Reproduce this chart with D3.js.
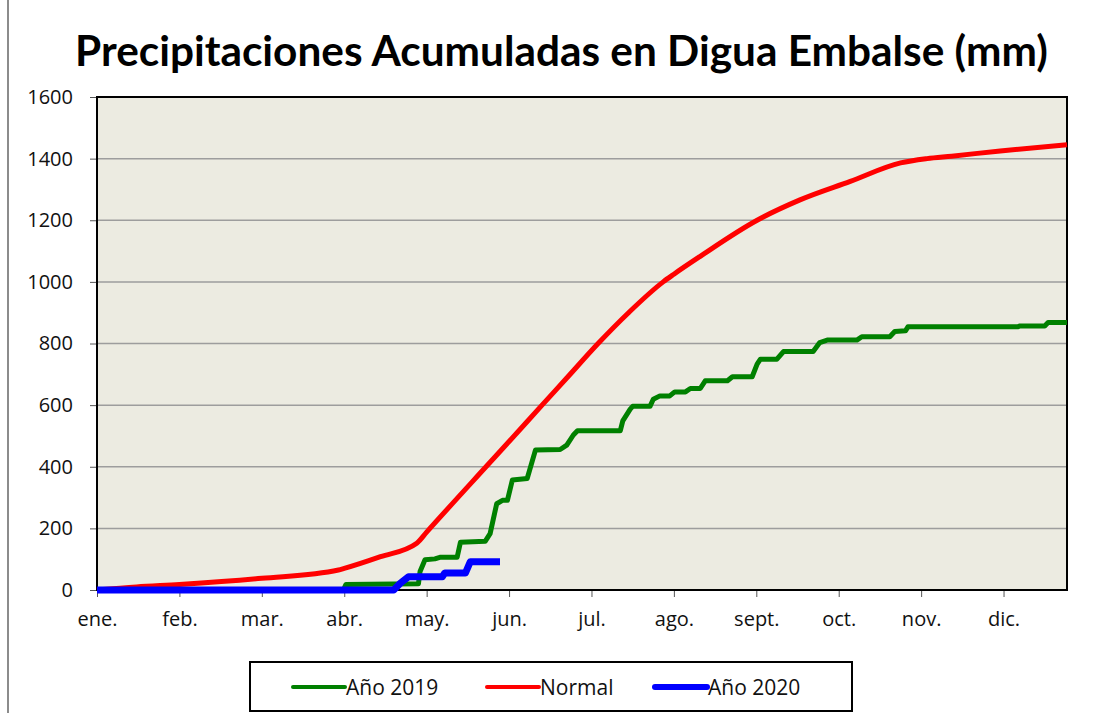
<!DOCTYPE html>
<html>
<head>
<meta charset="utf-8">
<script src="https://cdn.jsdelivr.net/npm/d3@7"></script>
<style>
  body { margin: 0; background: #fff; }
  text { font-family: "Open Sans", sans-serif; fill: #111; }
</style>
</head>
<body>
<svg id="chart"></svg>
<script>
// month positions (0 = 1 ene.) and accumulated mm
const monthLabels = ["ene.", "feb.", "mar.", "abr.", "may.", "jun.", "jul.", "ago.", "sept.", "oct.", "nov.", "dic."];
const yTicks = [0, 200, 400, 600, 800, 1000, 1200, 1400, 1600];

const normalMonth = [0, 0.48, 1.0, 2.0, 2.93, 3.0, 3.44, 3.88, 4.0, 4.72, 5.0, 5.4, 5.7, 6.08, 6.45, 6.87, 7.0, 7.32, 8.01, 8.53, 9.14, 9.75, 10.07, 10.37, 10.96, 11.77];
const normalValue = [0, 10, 18, 38, 65, 70, 108, 152, 188, 400, 482, 600, 688, 800, 900, 1000, 1025, 1083, 1200, 1266, 1326, 1386, 1400, 1408, 1425, 1445];

const y2019Month = [0, 2.99, 3.02, 3.9, 3.92, 3.98, 4.1, 4.16, 4.37, 4.41, 4.71, 4.77, 4.85, 4.92, 4.98, 5.04, 5.22, 5.32, 5.62, 5.7, 5.78, 5.83, 6.35, 6.38, 6.47, 6.5, 6.71, 6.75, 6.83, 6.95, 7.01, 7.14, 7.2, 7.32, 7.38, 7.65, 7.71, 7.95, 8.01, 8.05, 8.25, 8.33, 8.69, 8.77, 8.86, 9.22, 9.28, 9.62, 9.68, 9.81, 9.84, 11.17, 11.2, 11.5, 11.54, 11.77];
const y2019Value = [0, 0, 18, 20, 60, 98, 101, 106, 106, 155, 158, 183, 280, 291, 291, 357, 362, 454, 456, 470, 503, 517, 517, 549, 587, 596, 596, 619, 630, 630, 643, 643, 654, 654, 679, 679, 692, 692, 733, 749, 749, 774, 774, 803, 811, 811, 822, 822, 839, 841, 854, 854, 857, 857, 868, 868];

const y2020Month = [0, 3.6, 3.68, 3.78, 4.19, 4.22, 4.47, 4.53, 4.89];
const y2020Value = [0, 0, 22, 43, 43, 55, 55, 92, 92];

const chart = () => {
  const w = 1107;
  const h = 713;
  const left = 97;
  const right = 1067;
  const top = 97;
  const bottom = 590;
  const greenColor = "#008000";
  const redColor = "#ff0000";
  const blueColor = "#0000ff";

  const svg = d3.select("#chart").attr("width", w).attr("height", h);

  // outer chart edge on the left
  svg.append("line")
    .attr("x1", 8).attr("x2", 8)
    .attr("y1", 0).attr("y2", h)
    .style("stroke", "#8c8c8c")
    .style("stroke-width", 2);

  const title = svg.append("text")
    .attr("x", (75 + 1048) / 2)
    .attr("y", 66)
    .attr("text-anchor", "middle")
    .style("font-family", "Lato, 'Open Sans', sans-serif")
    .style("font-weight", "bold")
    .style("font-size", "40px")
    .style("fill", "#000")
    .text("Precipitaciones Acumuladas en Digua Embalse (mm)");
  const tw = title.node().getComputedTextLength();
  title.style("font-size", (40 * 973 / tw) + "px");

  const xScale = d3.scaleLinear().domain([0, 11.77]).range([left, right]);
  const yScale = d3.scaleLinear().domain([0, 1600]).range([bottom, top]);

  svg.append("rect")
    .attr("x", left).attr("y", top)
    .attr("width", right - left).attr("height", bottom - top)
    .style("fill", "#ecebe1");

  svg.append("g")
    .selectAll("line")
    .data(yTicks.filter((d) => d > 0 && d < 1600))
    .enter()
    .append("line")
    .attr("x1", left).attr("x2", right)
    .attr("y1", (d) => yScale(d)).attr("y2", (d) => yScale(d))
    .style("stroke", "#9d9d9d")
    .style("stroke-width", 1.5);

  const yAxis = d3.axisLeft(yScale).tickValues(yTicks).tickFormat(d3.format("d")).tickSize(7).tickPadding(17);
  const yg = svg.append("g").attr("transform", "translate(" + left + ",0)").call(yAxis);
  yg.select(".domain").remove();
  yg.selectAll("line").style("stroke", "#555");
  yg.selectAll("text").style("font-size", "20px").style("font-family", "'Open Sans', sans-serif").style("fill", "#111");

  const xAxis = d3.axisBottom(xScale)
    .tickValues(d3.range(monthLabels.length))
    .tickFormat((d) => monthLabels[d])
    .tickSize(7)
    .tickPadding(15);
  const xg = svg.append("g").attr("transform", "translate(0," + bottom + ")").call(xAxis);
  xg.select(".domain").remove();
  xg.selectAll("line").style("stroke", "#555");
  xg.selectAll("text").style("font-size", "20px").style("font-family", "'Open Sans', sans-serif").style("fill", "#111");

  svg.append("rect")
    .attr("x", left).attr("y", top)
    .attr("width", right - left).attr("height", bottom - top)
    .style("fill", "none")
    .style("stroke", "#000")
    .style("stroke-width", 2);

  const series = [
    { m: normalMonth, v: normalValue, color: redColor, width: 5, curve: d3.curveMonotoneX },
    { m: y2019Month, v: y2019Value, color: greenColor, width: 5, curve: d3.curveLinear },
    { m: y2020Month, v: y2020Value, color: blueColor, width: 7, curve: d3.curveLinear },
  ];

  series.forEach((s) => {
    const line = d3.line()
      .x((d) => xScale(d[0]))
      .y((d) => yScale(d[1]))
      .curve(s.curve);
    svg.append("path")
      .datum(s.m.map((m, i) => [m, s.v[i]]))
      .attr("d", line)
      .style("fill", "none")
      .style("stroke", s.color)
      .style("stroke-width", s.width)
      .style("stroke-linejoin", "round")
      .style("stroke-linecap", "butt");
  });

  // legend
  const legend = svg.append("g").attr("id", "legend");
  legend.append("rect")
    .attr("x", 250).attr("y", 662)
    .attr("width", 602).attr("height", 49)
    .style("fill", "#fff")
    .style("stroke", "#000")
    .style("stroke-width", 2);

  const items = [
    { label: "Año 2019", color: greenColor, x: 293, width: 4 },
    { label: "Normal", color: redColor, x: 487, width: 4 },
    { label: "Año 2020", color: blueColor, x: 655, width: 6 },
  ];
  items.forEach((it) => {
    legend.append("line")
      .attr("x1", it.x).attr("x2", it.x + 52)
      .attr("y1", 687).attr("y2", 687)
      .style("stroke", it.color)
      .style("stroke-width", it.width)
      .style("stroke-linecap", "round");
    legend.append("text")
      .attr("x", it.x + 53)
      .attr("y", 695)
      .style("font-size", "21px")
      .text(it.label);
  });
};

chart();
</script>
</body>
</html>
